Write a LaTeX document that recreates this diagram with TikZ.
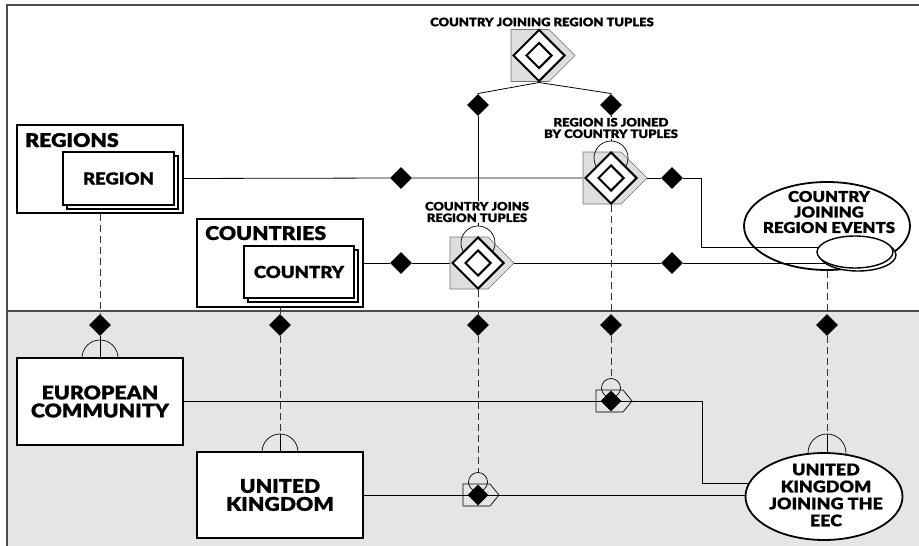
\documentclass[tikz,border=0pt]{standalone}
\usepackage{fontspec}
\setmainfont{Lato Black}[FakeStretch=1.12, FakeBold=0.7]
\usetikzlibrary{shapes.geometric}
\pgfdeclarelayer{bg}
\pgfdeclarelayer{wires}
\pgfsetlayers{bg,wires,main}

% type sizes
\newcommand\fbig{\fontsize{19}{18}\selectfont}
\newcommand\fmid{\fontsize{16.5}{17}\selectfont}
\newcommand\fell{\fontsize{15}{15.5}\selectfont}
\newcommand\fukj{\fontsize{16}{17}\selectfont}
\newcommand\fsml{\fontsize{11.6}{11.5}\selectfont}

% grey plate of a relationship symbol
\newcommand\relplate[2]{%
  \filldraw[plate] (#1-28,#2-26) -- (#1+10,#2-26) -- (#1+36,#2) -- (#1+10,#2+26) -- (#1-28,#2+26) -- cycle;}
% double diamond of a relationship symbol
\newcommand\reldiamonds[3]{%
  \node[reldia, minimum size=52pt] (#1) at (#2,#3) {};
  \node[reldia, minimum size=26pt] (#1-in) at (#2,#3) {};}
% small occurrence symbol
\newcommand\smallrel[3]{%
  \draw[line width=0.7pt] (#2-15,#3-11) -- (#2+12,#3-11) -- (#2+21,#3) -- (#2+12,#3+11) -- (#2-15,#3+11) -- cycle;
  \draw[line width=1.4pt, draw=black!45] (#2-15,#3+11) -- (#2+12,#3+11);
  \node[ringsmall] (#1-c) at (#2,#3-13) {};
  \node[soliddia, minimum size=21pt] (#1) at (#2,#3) {};}

\begin{document}
\begin{tikzpicture}[x=1pt, y=-1pt,
  frameline/.style={line width=1.7pt, draw=black!70},
  conn/.style={line width=0.8pt},
  link/.style={line width=0.8pt, draw=black!80, dash pattern=on 7pt off 4pt},
  box/.style={rectangle, draw, line width=1.8pt, fill=white, inner sep=0pt},
  stackbox/.style={rectangle, draw, line width=1.4pt, fill=white, inner sep=0pt, minimum width=111pt, minimum height=53pt},
  soliddia/.style={diamond, fill=black, minimum size=22pt, inner sep=0pt},
  reldia/.style={diamond, draw, line width=2pt, fill=white, inner sep=0pt},
  plate/.style={fill=black!13, draw=black!55, line width=0.6pt},
  ring/.style={circle, draw, line width=0.7pt, minimum size=34pt, inner sep=0pt},
  ringsmall/.style={circle, draw, line width=0.7pt, minimum size=19pt, inner sep=0pt},
  bar/.style={circle, draw, line width=0.7pt, minimum size=36pt, inner sep=0pt},
  lbl/.style={font=\fsml, inner sep=1pt, align=center}]
\useasboundingbox (0,0) rectangle (919,546);

\begin{pgfonlayer}{bg}
  \fill[white] (0,0) rectangle (919,546);
  \fill[black!10] (7,311) rectangle (919,546);
  \draw[frameline] (919,5) -- (7,5) -- (7,546);
  \draw[frameline] (7,311) -- (919,311);
\end{pgfonlayer}

% entity sets with their member types
\node[box, minimum width=166pt, minimum height=88pt] (regs) at (100,169) {};
\node[anchor=base west, font=\fbig, inner sep=0pt] (regs-t) at (25,147) {REGIONS};
\node[stackbox] (reg-b) at (122.5,182.5) {};
\node[stackbox, font=\fmid] (reg) at (118.5,178.5) {REGION};

\node[box, minimum width=166pt, minimum height=88pt] (ctys) at (280,263) {};
\node[anchor=base west, font=\fbig, inner sep=0pt] (ctys-t) at (205,240) {COUNTRIES};
\node[stackbox, minimum width=110pt, minimum height=52pt] (cty-b) at (303,276) {};
\node[stackbox, minimum width=110pt, minimum height=52pt, font=\fmid] (cty) at (299,272) {COUNTRY};

% relationship symbols
\node[lbl] (cjrt-l) at (542,22) {COUNTRY JOINING REGION TUPLES};
\relplate{539}{55.5}
\reldiamonds{cjrt}{539}{55.5}

\relplate{478}{263}
\node[ring] (cjr-c) at (478,243) {};
\reldiamonds{cjr}{478}{263}
\node[lbl, fill=white] (cjr-l) at (477,212) {COUNTRY JOINS\\REGION TUPLES};

\relplate{611}{178}
\node[ring] (rij-c) at (611,158) {};
\reldiamonds{rij}{611}{178}
\node[lbl, fill=white] (rij-l) at (611,128) {REGION IS JOINED\\BY COUNTRY TUPLES};

% event type
\node[ellipse, draw, line width=1.8pt, minimum width=166pt, minimum height=88pt, inner sep=0pt] (cjre) at (827,226) {};
\node[font=\fell, align=center, inner sep=0pt] (cjre-t) at (829,212) {COUNTRY\\JOINING\\REGION EVENTS};
\node[ellipse, draw, line width=1.4pt, fill=white, minimum width=76pt, minimum height=32pt, inner sep=0pt] (cjre-s2) at (858,255) {};
\node[ellipse, draw, line width=1.4pt, fill=white, minimum width=76pt, minimum height=32pt, inner sep=0pt] (cjre-s) at (855,252) {};

% small connecting diamonds
\node[soliddia] (d1) at (401,178) {};
\node[soliddia] (d2) at (401,263) {};
\node[soliddia] (d3) at (672,178) {};
\node[soliddia] (d4) at (672,263) {};
\node[soliddia] (d5) at (478,105) {};
\node[soliddia] (d6) at (611,105) {};
\node[soliddia] (dA) at (100,325) {};
\node[soliddia] (dB) at (280,325) {};
\node[soliddia] (dC) at (478,325) {};
\node[soliddia] (dD) at (611,325) {};
\node[soliddia] (dE) at (827,325) {};

% instances
\node[bar] (ec-r) at (100,358) {};
\node[box, minimum width=166pt, minimum height=87pt, font=\fbig, align=center] (ec) at (100,401.5) {EUROPEAN\\COMMUNITY};
\node[bar] (uk-r) at (280,452) {};
\node[box, minimum width=166pt, minimum height=86pt, font=\fbig, align=center] (uk) at (280,495) {UNITED\\KINGDOM};
\node[bar, minimum size=38pt] (ukj-r) at (827,453) {};
\node[ellipse, draw, line width=1.8pt, fill=white, minimum width=157pt, minimum height=87pt, inner sep=0pt] (ukj) at (824,496.5) {};
\node[font=\fukj, align=center, inner sep=0pt] (ukj-t) at (826,495) {UNITED\\KINGDOM\\JOINING THE\\EEC};

\smallrel{rijs}{611}{401}
\smallrel{cjrs}{478}{495}

\begin{pgfonlayer}{wires}
  % type level
  \draw[conn] (reg.east) -- (d1) -- (rij);
  \draw[conn] (rij) -- (d3);
  \coordinate (k1) at (701,247);
  \draw[conn] (d3) -| (k1) -- (k1 -| cjre-s.center);
  \draw[conn] (cty.east |- d2) -- (d2) -- (cjr);
  \draw[conn] (cjr) -- (d4) -- (d4 -| cjre-s.center);
  \draw[conn] (cjrt.south) -- ++(-61,11) -- (d5);
  \draw[conn] (cjrt.south) -- ++(72,11) -- (d6);
  \draw[conn] (d5) -- (cjr-c.north);
  \draw[conn] (d6) -- (rij-c.north);
  % instance-of links
  \draw[link] (regs.south) -- (dA);
  \draw[conn] (dA) -- (ec.north);
  \draw[link] (ctys.south) -- (dB);
  \draw[link] (dB) -- (uk-r.north);
  \draw[conn] (uk-r.north) -- (uk.north);
  \draw[link] (cjr.south) -- (dC);
  \draw[link] (dC) -- (cjrs-c.north);
  \draw[link] (rij.south) -- (dD);
  \draw[link] (dD) -- (rijs-c.north);
  \draw[link] (cjre.south) -- (dE);
  \draw[link] (dE) -- (ukj-r.north);
  \draw[conn] (ukj-r.north) -- (ukj-r.center);
  % instance level
  \coordinate (k2) at (702,483);
  \draw[conn] (ec.east |- rijs) -| (k2) -- (k2 -| ukj.center);
  \draw[conn] (uk.east |- cjrs) -- (cjrs -| ukj.center);
\end{pgfonlayer}
\end{tikzpicture}
\end{document}
